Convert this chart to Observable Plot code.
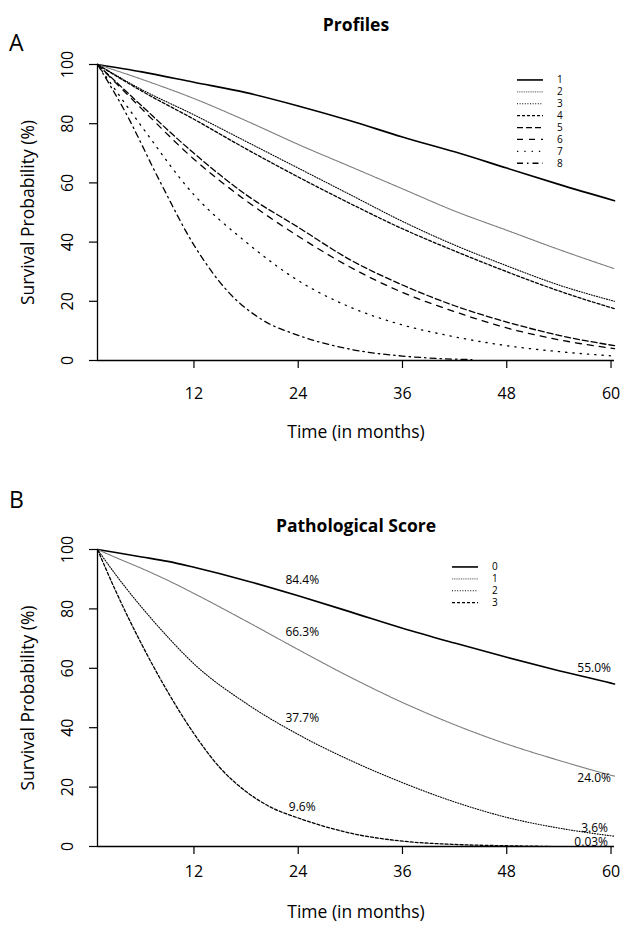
<!DOCTYPE html>
<html>
<head>
<meta charset="utf-8">
<script src="https://cdn.jsdelivr.net/npm/d3@7"></script>
<script src="https://cdn.jsdelivr.net/npm/@observablehq/plot@0.6"></script>
<style>
  html, body { margin: 0; padding: 0; background: #fff; }
  #page { position: relative; width: 620px; height: 926px; overflow: hidden; font-family: "Open Sans", "Noto Sans", sans-serif; color: #000; }
  .panel { position: absolute; left: 0; }
  .tag { position: absolute; font-size: 23px; line-height: 1; }
  .title { position: absolute; font-weight: bold; font-size: 17.5px; line-height: 1; transform: translate(-50%, -50%); white-space: nowrap; }
</style>
</head>
<body>
<div id="page"></div>
<script>
// ---------- DATA ----------
const xTicks = [12, 24, 36, 48, 60];
const yTicks = [0, 20, 40, 60, 80, 100];
const timeDomain = [0.9, 60.4];

// Panel A: survival (%) by profile
const profileNames = ["1", "2", "3", "4", "5", "6", "7", "8"];
const profileTimes = [0.9, 6, 12, 18, 24, 30, 36, 42, 48, 54, 60.4];
const profile1 = [100, 97.5, 94, 90.5, 86, 81, 75.5, 70.5, 65, 59.5, 54];
const profile2 = [100, 95, 88.5, 81, 73, 65.5, 58, 50.5, 44, 37.5, 31];
const profile3 = [100, 91.5, 83, 74, 65, 56, 47, 39, 32, 25.5, 20];
const profile4 = [100, 91, 81.5, 71.5, 62, 53, 44.5, 37, 30, 23.5, 17.5];
const profile5 = [100, 86, 70, 56, 45, 34, 25.5, 18.5, 13, 8.5, 5];
const profile6 = [100, 85, 68, 54, 42, 31.5, 23, 16.5, 11, 7, 4];
const profile7 = [100, 79, 56, 40, 27, 18, 12, 8, 5, 3, 1.5];
const profile8Times = [0.9, 4, 8, 12, 16, 20, 24, 30, 36, 40, 44];
const profile8 = [100, 84.5, 61, 39, 23, 13.5, 8.5, 3.8, 1.5, 0.7, 0.3];

// Panel B: survival (%) by pathological score
const scoreNames = ["0", "1", "2", "3"];
const scoreTimes = [0.9, 3, 6, 9, 12, 18, 24, 30, 36, 42, 48, 54, 60, 60.4];
const score0 = [100, 99, 97.5, 96, 94, 89.5, 84.4, 79, 73.5, 68.5, 63.7, 59.2, 55.0, 54.7];
const score1 = [100, 97.3, 93.6, 89.6, 85.2, 75.9, 66.3, 57, 48.5, 41, 34.5, 29, 24.0, 23.7];
const score2 = [100, 91.5, 80.5, 70.5, 61.5, 48.2, 37.7, 29, 21.5, 15, 9.8, 6.2, 3.6, 3.45];
const score3Times = [0.9, 3, 6, 9, 12, 15, 18, 21, 24, 30, 36, 42, 48, 53];
const score3 = [100, 86, 68, 52, 38, 26.5, 18.5, 13, 9.6, 4.5, 1.8, 0.7, 0.25, 0.03];

// Annotated survival values
const labelTimesLeft = [24, 24, 24, 24];
const labelValuesLeft = [84.4, 66.3, 37.7, 9.6];
const labelTextLeft = ["84.4%", "66.3%", "37.7%", "9.6%"];
const labelTimesRight = [60, 60, 60, 60];
const labelValuesRight = [55.0, 24.0, 3.6, 0.03];
const labelTextRight = ["55.0%", "24.0%", "3.6%", "0.03%"];

// ---------- STYLES ----------
const FONT = "Open Sans, Noto Sans, sans-serif";
const styleA = {
  "1": {stroke: "#000", width: 1.6, dash: null},
  "2": {stroke: "#7a7a7a", width: 1.1, dash: "1,0.8"},
  "3": {stroke: "#000", width: 1.1, dash: "1,1.6"},
  "4": {stroke: "#000", width: 1.3, dash: "3,2"},
  "5": {stroke: "#000", width: 1.3, dash: "6,3"},
  "6": {stroke: "#000", width: 1.3, dash: "6,6"},
  "7": {stroke: "#000", width: 1.3, dash: "1.3,6"},
  "8": {stroke: "#000", width: 1.3, dash: "6,4,1.5,4"}
};
const styleB = {
  "0": styleA["1"], "1": styleA["2"], "2": styleA["3"], "3": {stroke: "#000", width: 1.3, dash: "3,2"}
};

function rows(name, times, values) { return times.map((t, i) => ({name, t, v: values[i]})); }

const dataA = [
  ...rows("1", profileTimes, profile1), ...rows("2", profileTimes, profile2),
  ...rows("3", profileTimes, profile3), ...rows("4", profileTimes, profile4),
  ...rows("5", profileTimes, profile5), ...rows("6", profileTimes, profile6),
  ...rows("7", profileTimes, profile7), ...rows("8", profile8Times, profile8)
];
const dataB = [
  ...rows("0", scoreTimes, score0), ...rows("1", scoreTimes, score1),
  ...rows("2", scoreTimes, score2), ...rows("3", score3Times, score3)
];

const page = document.getElementById("page");

function axesMarks(tickDy, titleDy) {
  return [
    Plot.ruleY([0], {stroke: "#000", strokeWidth: 1.3}),
    Plot.ruleX([timeDomain[0]], {stroke: "#000", strokeWidth: 1.3}),
    Plot.axisX({ticks: xTicks, tickSize: 8, fill: "none", label: null, stroke: "#000", strokeWidth: 1.2}),
    Plot.axisY({ticks: yTicks, tickSize: 8, fill: "none", label: null, stroke: "#000", strokeWidth: 1.2}),
    Plot.text(xTicks, {x: d => d, frameAnchor: "bottom", lineAnchor: "middle", dy: tickDy, text: d => String(d), fontSize: 16, fill: "#000"}),
    Plot.text(yTicks, {y: d => d, frameAnchor: "left", textAnchor: "middle", lineAnchor: "middle", dx: -30, rotate: -90, text: d => String(d), fontSize: 16, fill: "#000"}),
    Plot.text(["Time (in months)"], {frameAnchor: "bottom", lineAnchor: "middle", dy: titleDy, text: d => d, fontSize: 17.5, fill: "#000"}),
    Plot.text(["Survival Probability (%)"], {frameAnchor: "left", textAnchor: "middle", lineAnchor: "middle", dx: -69, rotate: -90, text: d => d, fontSize: 17.5, fill: "#000"})
  ];
}

function lineMarks(data, names, styles) {
  return names.map(n => Plot.line(data.filter(d => d.name === n), {
    x: "t", y: "v", curve: "monotone-x",
    stroke: styles[n].stroke, strokeWidth: styles[n].width,
    strokeDasharray: styles[n].dash || undefined
  }));
}

function makePanel(top, height, marginTop, marginBottom, marks) {
  const svg = Plot.plot({
    width: 620, height,
    marginTop, marginBottom, marginLeft: 97, marginRight: 6,
    x: {domain: timeDomain, axis: null},
    y: {domain: [0, 100], axis: null},
    style: {fontFamily: FONT, background: "transparent", overflow: "visible"},
    marks
  });
  const wrap = document.createElement("div");
  wrap.className = "panel";
  wrap.style.top = top + "px";
  wrap.appendChild(svg);
  page.appendChild(wrap);
}

// Panel A
makePanel(0, 463, 64, 103, [
  ...lineMarks(dataA, profileNames, styleA),
  ...axesMarks(33, 72)
]);

// Panel B
const leftLabels = labelTimesLeft.map((t, i) => ({t, v: labelValuesLeft[i], text: labelTextLeft[i]}));
const rightLabels = labelTimesRight.map((t, i) => ({t, v: labelValuesRight[i], text: labelTextRight[i]}));
const leftDy = [-16, -17, -16, -11];
const rightDy = [-15, 3, -8, -4];
const rightDx = [0, 0, -3, -3];
makePanel(463, 463, 86, 80, [
  ...lineMarks(dataB, scoreNames, styleB),
  ...axesMarks(25, 66),
  ...leftLabels.map((d, i) => Plot.text([d], {x: "t", y: "v", text: "text", dx: 4, dy: leftDy[i], fontSize: 12, fill: "#000"})),
  ...rightLabels.map((d, i) => Plot.text([d], {x: "t", y: "v", text: "text", textAnchor: "end", dx: rightDx[i], dy: rightDy[i], fontSize: 12, fill: "#000"}))
]);

// Titles and panel tags
function addText(cls, txt, x, y) {
  const el = document.createElement("div");
  el.className = cls; el.textContent = txt;
  el.style.left = x + "px"; el.style.top = y + "px";
  page.appendChild(el);
}
addText("tag", "A", 9, 31);
addText("title", "Profiles", 356, 25);
addText("tag", "B", 9, 488);
addText("title", "Pathological Score", 356, 526);

// Legends
function legend(names, styles, left, top, step) {
  const w = 60, h = step * names.length + 6;
  const svg = d3.create("svg").attr("width", w).attr("height", h)
    .style("position", "absolute").style("left", left + "px").style("top", top + "px");
  names.forEach((n, i) => {
    const y = 4 + step * i + step / 2;
    svg.append("line").attr("x1", 0).attr("x2", 26).attr("y1", y).attr("y2", y)
      .attr("stroke", styles[n].stroke).attr("stroke-width", styles[n].width)
      .attr("stroke-dasharray", styles[n].dash || null);
    svg.append("text").attr("x", 40).attr("y", y).attr("dy", "0.35em")
      .attr("font-family", FONT).attr("font-size", 10).text(n);
  });
  page.appendChild(svg.node());
}
legend(profileNames, styleA, 517, 70, 11.9);
legend(scoreNames, styleB, 452, 557, 11.9);
</script>
</body>
</html>
